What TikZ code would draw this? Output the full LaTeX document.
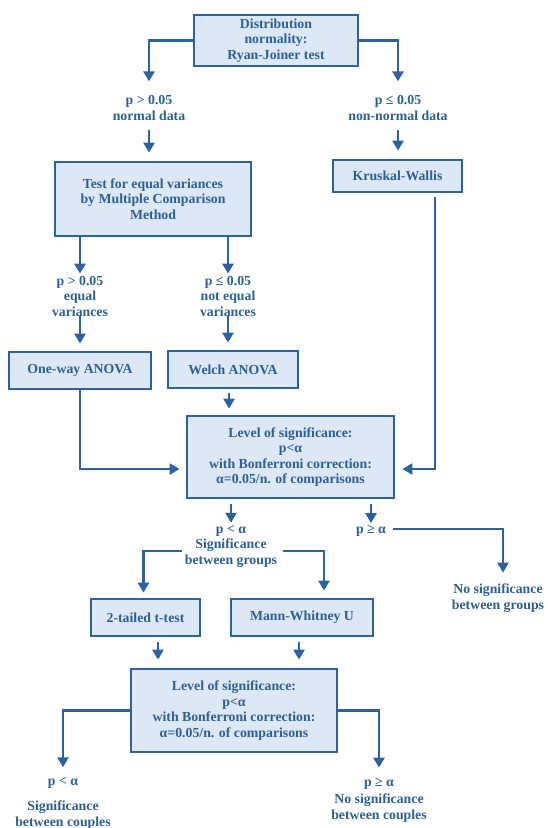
\documentclass[tikz,border=0pt]{standalone}
\usepackage{fontspec}
\setmainfont{Liberation Serif}
\usepackage{tikz}
\usetikzlibrary{arrows.meta,calc}
\definecolor{ink}{HTML}{2B5F98}
\definecolor{edge}{HTML}{2C62A0}
\definecolor{boxfill}{HTML}{DCE8F5}
\tikzset{
  box/.style={draw=edge, fill=boxfill, line width=2.8pt, text=ink, align=center,
    inner sep=0pt, font=\bfseries\fontsize{13.8}{15.5}\selectfont},
  lab/.style={text=ink, align=center, inner sep=0pt,
    font=\bfseries\fontsize{13.8}{15.5}\selectfont},
  arr/.style={-{Triangle[width=11pt,length=10pt]}, draw=edge, line width=2.6pt},
}

\begin{document}
\begin{tikzpicture}[x=1pt, y=-1pt]
  \useasboundingbox (0,0) rectangle (547,828);

  % boxes
  \node[box, minimum width=164pt, minimum height=51pt] (dist) at (276,40.5)
    {Distribution\\normality:\\Ryan-Joiner test};
  \node[box, minimum width=196pt, minimum height=74pt] (test) at (153,199)
    {Test for equal variances\\by Multiple Comparison\\Method};
  \node[box, minimum width=129pt, minimum height=32pt] (kw) at (397.5,176) {Kruskal-Wallis};
  \node[box, minimum width=142pt, minimum height=37pt] (oneway) at (80,370.5) {One-way ANOVA};
  \node[box, minimum width=130pt, minimum height=37pt] (welch) at (233,369.5) {Welch ANOVA};
  \node[box, minimum width=207pt, minimum height=82pt] (los1) at (290.5,457)
    {Level of significance:\\p<α\\with Bonferroni correction:\\α=0.05/n. of comparisons};
  \node[box, minimum width=109pt, minimum height=37pt] (ttest) at (145.5,617.5) {2-tailed t-test};
  \node[box, minimum width=142pt, minimum height=37pt] (mw) at (302,617.5) {Mann-Whitney U};
  \node[box, minimum width=206pt, minimum height=83pt] (los2) at (234,710.5)
    {Level of significance:\\p<α\\with Bonferroni correction:\\α=0.05/n. of comparisons};

  % labels
  \node[lab] (normal) at (149,108) {p > 0.05\\normal data};
  \node[lab] (nonnormal) at (398,108) {p ≤ 0.05\\non-normal data};
  \node[lab] (eqvar) at (80,296) {p > 0.05\\equal\\variances};
  \node[lab] (neqvar) at (228,296) {p ≤ 0.05\\not equal\\variances};
  \node[lab] (sigG) at (231,546) {p < α\\Significance\\between groups};
  \node[lab] (nsigG) at (371,531) {p ≥ α};
  \node[lab] (nosigG) at (498,598) {No significance\\between groups};
  \node[lab] (sigC) at (63,783) {p < α};
  \node[lab] (sigC2) at (63,815) {Significance\\between couples};
  \node[lab] (nsigC) at (379,800) {p ≥ α\\[2pt]No significance\\between couples};

  % connectors
  \draw[arr, shorten >=14pt] (dist.west) -| (normal.north);
  \draw[arr, shorten >=14pt] (dist.east) -| (nonnormal.north);
  \draw[arr, shorten <=9pt, shorten >=8pt] (normal.south) -- (normal.south |- test.north);
  \draw[arr, shorten <=9pt, shorten >=8pt] (nonnormal.south) -- (nonnormal.south |- kw.north);
  \draw[arr, shorten >=2pt] (eqvar.north |- test.south) -- (eqvar.north);
  \draw[arr, shorten >=2pt] (neqvar.north |- test.south) -- (neqvar.north);
  \draw[arr, shorten >=7pt] (eqvar.south) -- (eqvar.south |- oneway.north);
  \draw[arr, shorten >=7pt] (neqvar.south) -- (neqvar.south |- welch.north);
  \draw[arr, shorten >=6pt] (oneway.south) |- ([yshift=-12pt]los1.west);
  \draw[arr, shorten <=4pt, shorten >=6pt] ([xshift=-4pt]welch.south) -- ([xshift=-4pt]welch.south |- los1.north);
  \draw[arr, shorten <=4pt, shorten >=7pt] ([xshift=37.5pt]kw.south) |- ([yshift=-12pt]los1.east);
  \draw[arr, shorten <=5pt, shorten >=2pt] (sigG.north |- los1.south) -- (sigG.north);
  \draw[arr, shorten <=5pt, shorten >=2pt] (nsigG.north |- los1.south) -- (nsigG.north);
  \draw[arr, shorten >=5pt] ([xshift=-3pt, yshift=-5pt]sigG.west) -| ([xshift=-2pt]ttest.north);
  \draw[arr, shorten >=7pt] ([xshift=6pt, yshift=-5pt]sigG.east) -| ([xshift=22pt]mw.north);
  \draw[arr, shorten >=11pt] ([xshift=7pt, yshift=2pt]nsigG.east) -| ([xshift=5pt]nosigG.north);
  \draw[arr, shorten <=5pt, shorten >=8pt] ([xshift=12.5pt]ttest.south) -- ([xshift=12.5pt]ttest.south |- los2.north);
  \draw[arr, shorten <=5pt, shorten >=8pt] ([xshift=-3pt]mw.south) -- ([xshift=-3pt]mw.south |- los2.north);
  \draw[arr, shorten >=10pt] (los2.west) -| (sigC.north);
  \draw[arr, shorten >=10pt] (los2.east) -| (nsigC.north);
\end{tikzpicture}
\end{document}
